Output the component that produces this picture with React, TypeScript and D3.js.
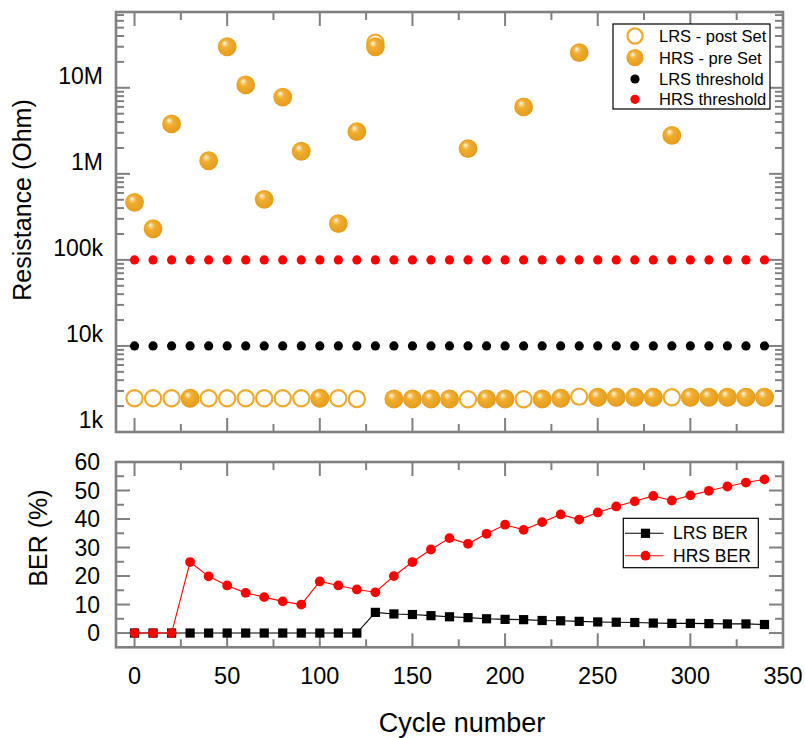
import React from 'react';
import * as d3 from 'd3';

const cycles = [0, 10, 20, 30, 40, 50, 60, 70, 80, 90, 100, 110, 120, 130, 140, 150, 160, 170, 180, 190, 200, 210, 220, 230, 240, 250, 260, 270, 280, 290, 300, 310, 320, 330, 340];

const lrsPostSet = [2467, 2467, 2467, 2467, 2467, 2467, 2467, 2467, 2467, 2467, 2467, 2467, 2421, 3.34e7, 2421, 2421, 2421, 2421, 2404, 2421, 2421, 2404, 2421, 2467, 2576, 2535, 2535, 2535, 2535, 2535, 2535, 2535, 2535, 2535, 2535];

const hrsPreSet = [4.67e5, 2.3e5, 3.8e6, 2467, 1.42e6, 3.0e7, 1.08e7, 5.06e5, 7.8e6, 1.83e6, 2467, 2.64e5, 3.09e6, 3.0e7, 2421, 2421, 2421, 2421, 1.96e6, 2421, 2421, 6.0e6, 2421, 2467, 2.56e7, 2535, 2535, 2535, 2535, 2.8e6, 2535, 2535, 2535, 2535, 2535];

const lrsThreshold = [1e4, 1e4, 1e4, 1e4, 1e4, 1e4, 1e4, 1e4, 1e4, 1e4, 1e4, 1e4, 1e4, 1e4, 1e4, 1e4, 1e4, 1e4, 1e4, 1e4, 1e4, 1e4, 1e4, 1e4, 1e4, 1e4, 1e4, 1e4, 1e4, 1e4, 1e4, 1e4, 1e4, 1e4, 1e4];

const hrsThreshold = [1e5, 1e5, 1e5, 1e5, 1e5, 1e5, 1e5, 1e5, 1e5, 1e5, 1e5, 1e5, 1e5, 1e5, 1e5, 1e5, 1e5, 1e5, 1e5, 1e5, 1e5, 1e5, 1e5, 1e5, 1e5, 1e5, 1e5, 1e5, 1e5, 1e5, 1e5, 1e5, 1e5, 1e5, 1e5];

const lrsBER = [0, 0, 0, 0, 0, 0, 0, 0, 0, 0, 0, 0, 0, 7.25, 6.7, 6.5, 6.1, 5.7, 5.4, 5.0, 4.8, 4.7, 4.4, 4.3, 4.1, 3.9, 3.8, 3.7, 3.5, 3.4, 3.4, 3.3, 3.2, 3.2, 3.0];

const hrsBER = [0, 0, 0, 24.9, 19.9, 16.7, 14.1, 12.6, 11.1, 10.0, 18.1, 16.7, 15.3, 14.3, 20.0, 24.9, 29.3, 33.3, 31.3, 34.8, 38.0, 36.2, 38.9, 41.6, 39.8, 42.3, 44.4, 46.2, 48.1, 46.5, 48.3, 49.9, 51.4, 52.8, 53.9];

const xMajorTicks = [0, 50, 100, 150, 200, 250, 300, 350];
const xMinorTicks = [25, 75, 125, 175, 225, 275, 325];
const resMajorTicks = [1e3, 1e4, 1e5, 1e6, 1e7];
const resTickLabels = ['1k', '10k', '100k', '1M', '10M'];
const berMajorTicks = [0, 10, 20, 30, 40, 50, 60];
const berMinorTicks = [5, 15, 25, 35, 45, 55];

const topLegend = ['LRS - post Set', 'HRS - pre Set', 'LRS threshold', 'HRS threshold'];
const bottomLegend = ['LRS BER', 'HRS BER'];

const FONT = "'Liberation Sans', Arial, sans-serif";
const AX = '#808080';
const ORANGE = '#EFAA2C';

export default function App() {
  const L = 116, R = 783;
  const T0 = 12, T1 = 432;
  const B0 = 462, B1 = 647.3;

  const x = d3.scaleLinear().domain([-10, 350]).range([L, R]);
  const yRes = d3.scaleLog().domain([1e3, 7.6e7]).range([T1, T0]);
  const yBer = d3.scaleLinear().domain([-5, 60]).range([B1, B0]);

  const resMinor: number[] = [];
  [1e3, 1e4, 1e5, 1e6, 1e7].forEach((d) => {
    for (let k = 2; k <= 9; k++) {
      const v = d * k;
      if (v < 7.6e7) resMinor.push(v);
    }
  });

  const MAJ = 14, MIN = 8;
  const tickStyle = { stroke: AX, strokeWidth: 2 };

  const xTicks = (y0: number, y1: number) => (
    <g>
      {xMajorTicks.map((t) => (
        <g key={'M' + t}>
          <line x1={x(t)} x2={x(t)} y1={y0} y2={y0 + MAJ} {...tickStyle} />
          <line x1={x(t)} x2={x(t)} y1={y1} y2={y1 - MAJ} {...tickStyle} />
        </g>
      ))}
      {xMinorTicks.map((t) => (
        <g key={'m' + t}>
          <line x1={x(t)} x2={x(t)} y1={y0} y2={y0 + MIN} {...tickStyle} />
          <line x1={x(t)} x2={x(t)} y1={y1} y2={y1 - MIN} {...tickStyle} />
        </g>
      ))}
    </g>
  );

  const yTicks = (vals: number[], scale: (v: number) => number, len: number, key: string) => (
    <g>
      {vals.map((t) => (
        <g key={key + t}>
          <line x1={L} x2={L + len} y1={scale(t)} y2={scale(t)} {...tickStyle} />
          <line x1={R} x2={R - len} y1={scale(t)} y2={scale(t)} {...tickStyle} />
        </g>
      ))}
    </g>
  );

  const lineLRS = d3.line<number>().x((_, i) => x(cycles[i])).y((d) => yBer(d));

  return (
    <svg width={805} height={738} style={{ position: 'absolute', left: 0, top: 0, background: '#fff' }} fontFamily={FONT}>
      <defs>
        <radialGradient id="ball" cx="0.45" cy="0.45" r="0.55" fx="0.36" fy="0.3">
          <stop offset="0%" stopColor="#ffffff" />
          <stop offset="14%" stopColor="#f8d896" />
          <stop offset="38%" stopColor="#f0ae30" />
          <stop offset="100%" stopColor="#e59c1c" />
        </radialGradient>
      </defs>
      <rect x={0} y={0} width={805} height={738} fill="#fff" />

      {/* Top panel */}
      {yTicks(resMajorTicks, (v) => yRes(v), MAJ, 'rM')}
      {yTicks(resMinor, (v) => yRes(v), MIN, 'rm')}
      {xTicks(T0, T1)}
      {resMajorTicks.map((t, i) => (
        <text key={'rl' + t} x={103} y={yRes(t) - 4} textAnchor="end" fontSize={23} fill="#000">
          {resTickLabels[i]}
        </text>
      ))}
      <text transform={`translate(31,200) rotate(-90)`} textAnchor="middle" fontSize={25} fill="#000">
        Resistance (Ohm)
      </text>

      {hrsThreshold.map((v, i) => (
        <circle key={'ht' + i} cx={x(cycles[i])} cy={yRes(v)} r={4.6} fill="#ff0000" />
      ))}
      {lrsThreshold.map((v, i) => (
        <circle key={'lt' + i} cx={x(cycles[i])} cy={yRes(v)} r={4.6} fill="#000" />
      ))}
      {lrsPostSet.map((v, i) => (
        <circle key={'lp' + i} cx={x(cycles[i])} cy={yRes(v)} r={8.1} fill="#fff" stroke={ORANGE} strokeWidth={2.2} />
      ))}
      {hrsPreSet.map((v, i) => (
        <circle key={'hp' + i} cx={x(cycles[i])} cy={yRes(v)} r={9.4} fill="url(#ball)" />
      ))}
      <rect x={L} y={T0} width={R - L} height={T1 - T0} fill="none" stroke={AX} strokeWidth={2.6} />

      {/* Top legend */}
      <rect x={613} y={24} width={157} height={85} fill="#fff" stroke="#000" strokeWidth={1.2} />
      <circle cx={635} cy={36} r={7.6} fill="#fff" stroke={ORANGE} strokeWidth={2.2} />
      <circle cx={635} cy={57.7} r={8.6} fill="url(#ball)" />
      <circle cx={635} cy={79} r={4.6} fill="#000" />
      <circle cx={635} cy={99.3} r={4.6} fill="#ff0000" />
      {topLegend.map((s, i) => (
        <text key={'tl' + i} x={659} y={[36, 57.7, 79, 99.3][i] + 6} fontSize={16.5} fill="#000">
          {s}
        </text>
      ))}

      {/* Bottom panel */}
      {yTicks(berMajorTicks, (v) => yBer(v), MAJ, 'bM')}
      {yTicks(berMinorTicks, (v) => yBer(v), MIN, 'bm')}
      {xTicks(B0, B1)}
      {berMajorTicks.map((t) => (
        <text key={'bl' + t} x={100} y={yBer(t) + 8.2} textAnchor="end" fontSize={23} fill="#000">
          {t}
        </text>
      ))}
      {xMajorTicks.map((t) => (
        <text key={'xl' + t} x={x(t)} y={683.5} textAnchor="middle" fontSize={23.5} fill="#000">
          {t}
        </text>
      ))}
      <text transform={`translate(47,538) rotate(-90)`} textAnchor="middle" fontSize={25} fill="#000">
        BER (%)
      </text>
      <text x={462} y={731.5} textAnchor="middle" fontSize={27} fill="#000">
        Cycle number
      </text>

      <path d={lineLRS(lrsBER) || ''} fill="none" stroke="#000" strokeWidth={1.1} />
      <path d={lineLRS(hrsBER) || ''} fill="none" stroke="#ff0000" strokeWidth={1.1} />
      {lrsBER.map((v, i) => (
        <rect key={'lb' + i} x={x(cycles[i]) - 4.6} y={yBer(v) - 4.6} width={9.2} height={9.2} fill="#000" />
      ))}
      {hrsBER.map((v, i) => (
        <circle key={'hb' + i} cx={x(cycles[i])} cy={yBer(v)} r={4.9} fill="#ff0000" />
      ))}
      <rect x={L} y={B0} width={R - L} height={B1 - B0} fill="none" stroke={AX} strokeWidth={2.6} />

      {/* Bottom legend */}
      <rect x={623.3} y={518.3} width={135} height={49.4} fill="#fff" stroke="#000" strokeWidth={1.2} />
      <line x1={625} x2={663.5} y1={533.3} y2={533.3} stroke="#000" strokeWidth={1.1} />
      <rect x={645.5 - 4.6} y={533.3 - 4.6} width={9.2} height={9.2} fill="#000" />
      <line x1={625} x2={663.5} y1={555.7} y2={555.7} stroke="#ff0000" strokeWidth={1.1} />
      <circle cx={645.5} cy={555.7} r={4.9} fill="#ff0000" />
      {bottomLegend.map((s, i) => (
        <text key={'bleg' + i} x={673} y={[533.3, 555.7][i] + 6} fontSize={17.5} fill="#000">
          {s}
        </text>
      ))}
    </svg>
  );
}
